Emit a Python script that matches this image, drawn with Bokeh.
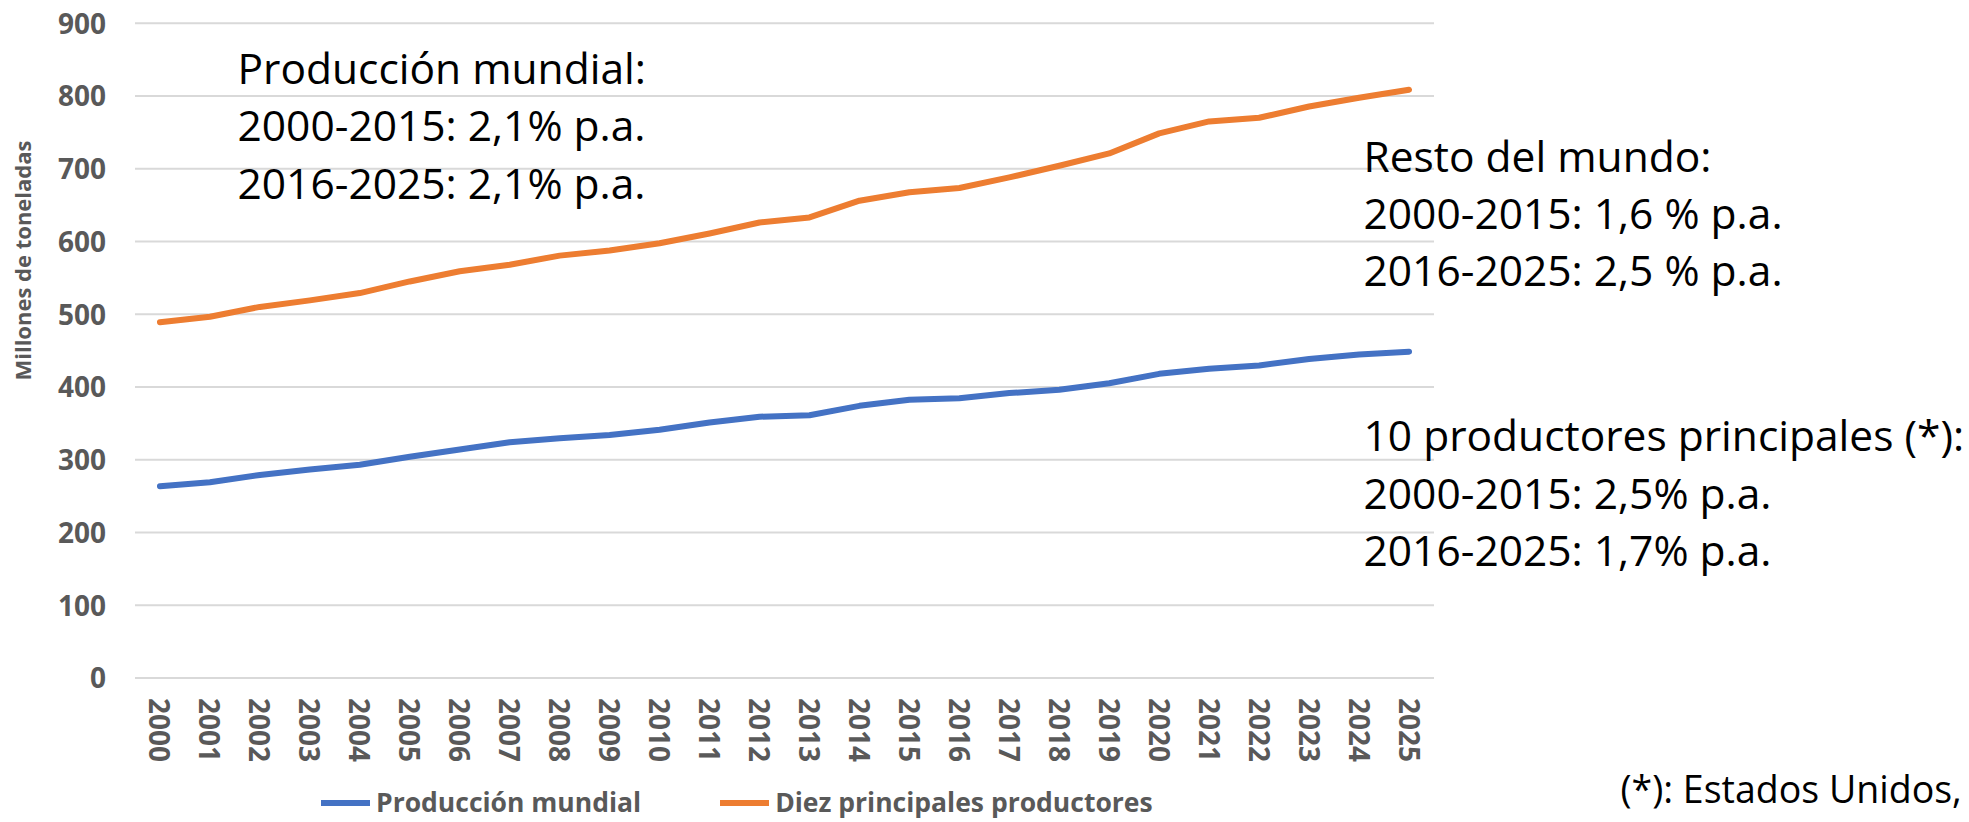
import math
from bokeh.plotting import figure
from bokeh.models import Range1d, FixedTicker, Label, Legend, LegendItem, ColumnDataSource
from bokeh.embed import file_html
from bokeh.resources import INLINE

# ---------------- data ----------------
years = [2000, 2001, 2002, 2003, 2004, 2005, 2006, 2007, 2008, 2009, 2010, 2011, 2012,
         2013, 2014, 2015, 2016, 2017, 2018, 2019, 2020, 2021, 2022, 2023, 2024, 2025]
produccion_mundial = [263.5, 269, 279, 286.5, 293, 304, 314, 324, 329.5, 334, 341, 351, 359,
                      361, 374, 382.5, 384.5, 391.5, 396, 405, 418, 425, 429.5, 438.5, 444.5, 448.5]
diez_principales = [489, 496.5, 510, 519, 529, 545, 559, 568, 580.5, 587.5, 597.5, 611, 626,
                    633, 656, 667.5, 673.5, 688, 704, 721, 748.5, 765, 770, 785.5, 797.5, 808.5]
y_ticks = [0, 100, 200, 300, 400, 500, 600, 700, 800, 900]
series_names = ["Producción mundial", "Diez principales productores"]
y_title = "Millones de toneladas"
annot_mundial = ["Producción mundial:", "2000-2015: 2,1% p.a.", "2016-2025: 2,1% p.a."]
annot_resto = ["Resto del mundo:", "2000-2015: 1,6 % p.a.", "2016-2025: 2,5 % p.a."]
annot_top10 = ["10 productores principales (*):", "2000-2015: 2,5% p.a.", "2016-2025: 1,7% p.a."]
footnote = "(*): Estados Unidos,"

# ---------------- layout (pixels) ----------------
W, H = 1969, 822
PL, PR, PT, PB = 134.5, 1433.5, 22.7, 677.4   # plot area inside the canvas
FONT = "Open Sans"
GRAY = "#595959"

cat0, cat1 = years[0] - 0.5, years[-1] + 0.5
xs = (PR - PL) / (cat1 - cat0)
ys = (PB - PT) / (y_ticks[-1] - y_ticks[0])
x_start = cat0 - PL / xs
x_end = x_start + W / xs
y_end = y_ticks[-1] + PT / ys
y_start = y_end - H / ys


def X(px):
    return x_start + px / xs


def Y(py):
    return y_end - py / ys


p = figure(width=W, height=H, output_backend="svg", toolbar_location=None,
           x_range=Range1d(x_start, x_end), y_range=Range1d(y_start, y_end),
           min_border=0, min_border_left=0, min_border_right=0,
           min_border_top=0, min_border_bottom=0)
p.outline_line_color = None
p.background_fill_color = "white"
p.border_fill_color = "white"
p.xgrid.visible = False
p.ygrid.visible = False

# axes placed at the plot-area edges
p.xaxis.fixed_location = y_ticks[0]
p.yaxis.fixed_location = cat0
p.xaxis.ticker = FixedTicker(ticks=years)
p.xaxis.major_label_orientation = "vertical"
p.yaxis.ticker = FixedTicker(ticks=y_ticks)
for ax in (p.xaxis, p.yaxis):
    ax.major_label_text_font = FONT
    ax.major_label_text_font_size = "28px"
    ax.major_label_text_font_style = "bold"
    ax.major_label_text_color = GRAY
    ax.major_tick_line_color = None
    ax.minor_tick_line_color = None
    ax.major_tick_out = 0
    ax.major_tick_in = 0
    ax.minor_tick_out = 0
    ax.minor_tick_in = 0
    ax.axis_line_color = None
p.xaxis.major_label_standoff = 20
p.yaxis.major_label_standoff = 29

# horizontal gridlines over the category span
n = len(y_ticks)
p.segment(x0=[cat0] * n, x1=[cat1] * n, y0=y_ticks, y1=y_ticks,
          line_color="#D9D9D9", line_width=2)

# lines
src = ColumnDataSource(dict(year=years, mundial=produccion_mundial, diez=diez_principales))
r1 = p.line("year", "mundial", source=src, line_color="#4472C4", line_width=6,
            line_cap="round", line_join="round")
r2 = p.line("year", "diez", source=src, line_color="#ED7D31", line_width=6,
            line_cap="round", line_join="round")

legend = Legend(items=[LegendItem(label=series_names[0], renderers=[r1]),
                       LegendItem(label=series_names[1], renderers=[r2])],
                location=(321, (H - 802) - 18.5), orientation="horizontal",
                glyph_width=49, glyph_height=37, label_height=37, label_standoff=6,
                spacing=79, padding=0, margin=0, border_line_color=None,
                background_fill_alpha=0, label_text_font=FONT, label_text_font_size="26.5px",
                label_text_font_style="bold", label_text_color=GRAY)
p.add_layout(legend)

# y axis title
p.add_layout(Label(x=X(21), y=Y(260), text=y_title, angle=math.pi / 2,
                   text_align="center", text_baseline="middle", text_font=FONT,
                   text_font_size="22px", text_font_style="bold", text_color=GRAY))


def block(lines, px, centers, size="42.5px"):
    for t, c in zip(lines, centers):
        p.add_layout(Label(x=X(px), y=Y(c - 1), text=t, text_align="left",
                           text_baseline="middle", text_font=FONT,
                           text_font_size=size, text_color="black"))


block(annot_mundial, 237, [67.5, 124.5, 182.5])
block(annot_resto, 1363, [156.2, 213.3, 270])
block(annot_top10, 1363, [435, 492.5, 549.5])
block([footnote], 1620, [789], size="37.5px")

open("out.html", "w").write(file_html(p, INLINE, "chart"))
